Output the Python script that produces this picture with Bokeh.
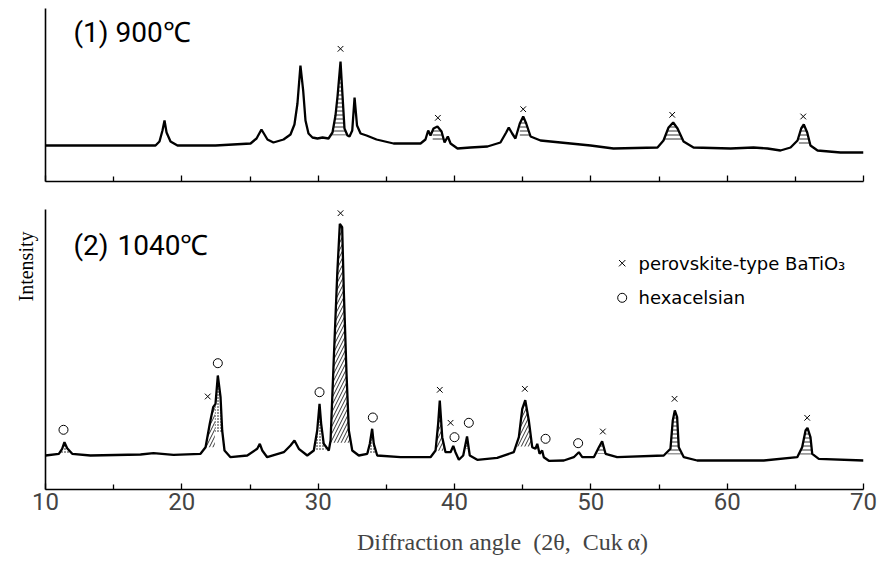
import numpy as np
from bokeh.plotting import figure
from bokeh.layouts import column
from bokeh.models import Range1d, FixedTicker, Title
from bokeh.core.properties import value
from bokeh.embed import file_html
from bokeh.resources import INLINE

# ---------------- data (2theta in degrees, intensity in arbitrary units) ----------------
top_x = [10.0, 14.03, 18.07, 18.36, 18.58, 18.73, 18.88, 19.17, 19.68, 22.47, 25.04, 25.48,
         25.84, 26.06, 26.28, 26.72, 27.46, 27.97, 28.26, 28.48, 28.70, 28.90, 29.07, 29.29,
         29.58, 29.95, 30.32, 30.76, 31.05, 31.27, 31.42, 31.64, 31.79, 31.93, 32.15, 32.30,
         32.50, 32.67, 32.85, 33.11, 33.55, 34.28, 35.53, 37.51, 37.87, 38.07, 38.24, 38.46,
         38.75, 39.05, 39.27, 39.51, 39.71, 40.22, 41.17, 42.42, 43.37, 43.79, 43.98, 44.23,
         44.47, 44.79, 45.04, 45.26, 45.58, 46.31, 47.78, 49.98, 51.66, 54.89, 55.33, 55.70,
         56.04, 56.36, 56.80, 57.53, 60.25, 61.93, 62.96, 63.91, 64.65, 65.16, 65.43, 65.62,
         65.87, 66.11, 66.63, 68.31, 70.0]
top_y = [36, 36, 36, 40, 51, 61, 49, 40, 36, 36, 38, 43,
         52, 47, 42, 39, 42, 47, 57, 78, 116, 91, 61, 48,
         44, 43, 44, 43, 49, 66, 85, 120, 85, 53, 46, 45,
         51, 84, 56, 48, 46, 42, 38, 38, 42, 51, 46, 53,
         55, 50, 39, 45, 38, 33, 34, 35, 39, 49, 54, 48,
         43, 58, 65, 58, 45, 41, 39, 36, 33, 34, 41, 54,
         59, 53, 40, 34, 33, 34, 33, 31, 34, 41, 53, 57,
         49, 36, 31, 29, 29]

bot_x = [10.0, 10.98, 11.22, 11.39, 11.59, 11.96, 13.30, 16.97, 17.92, 19.39, 21.37, 21.74,
         22.05, 22.30, 22.47, 22.64, 22.84, 22.96, 23.13, 23.57, 24.80, 25.53, 25.72, 25.90,
         26.26, 27.48, 27.97, 28.26, 28.58, 29.20, 29.68, 29.93, 30.10, 30.22, 30.41, 30.78,
         30.91, 31.15, 31.40, 31.59, 31.76, 31.88, 32.08, 32.25, 32.50, 32.98, 33.60, 33.79,
         33.96, 34.08, 34.33, 36.04, 38.24, 38.61, 38.80, 38.92, 39.10, 39.34, 39.71, 39.91,
         40.07, 40.32, 40.64, 40.92, 41.12, 41.67, 43.13, 44.35, 44.72, 44.97, 45.19, 45.45,
         45.70, 45.94, 46.07, 46.24, 46.43, 46.55, 46.92, 48.02, 48.75, 49.12, 49.37, 50.22,
         50.59, 50.83, 51.08, 51.93, 55.35, 55.84, 56.01, 56.16, 56.33, 56.45, 56.82, 57.80,
         62.69, 65.14, 65.50, 65.75, 65.89, 66.11, 66.24, 66.72, 70.0]
bot_y = [34, 35.7, 40.7, 47.3, 41.3, 35.7, 34, 35, 36.3, 34.7, 35.7, 42.3,
         65.7, 82.3, 85.7, 114, 92.3, 59, 39, 32.3, 34, 40.7, 45.7, 39,
         32.3, 37.3, 44, 49, 40.7, 34, 39, 59, 85.7, 65.7, 45.7, 39,
         49, 132.3, 215.7, 265.7, 262.3, 199, 115.7, 59, 39, 34, 35.7, 45.7,
         60.7, 45.7, 34, 32.3, 32.3, 39, 65.7, 89, 52.3, 37.3, 37.3, 43.5,
         37.3, 29.7, 34, 53, 34, 29.7, 31.7, 37.3, 52.3, 80.7, 89.3, 69,
         42.3, 40.7, 45.7, 35.7, 39, 32.3, 28.7, 29, 32.3, 37.3, 32.3, 32.3,
         42.3, 48.3, 35.7, 32.3, 34, 40.7, 69, 79, 72.3, 42.3, 32.3, 29,
         29, 32.3, 42.3, 59, 61.7, 52.3, 35.7, 30.7, 29]

# phase markers
top_perov_x = [31.64, 38.78, 45.04, 55.97, 65.58]
top_perov_y = [132.7, 63.7, 72.3, 66.7, 65.0]
bot_perov_x = [21.90, 31.64, 38.92, 39.71, 45.16, 50.88, 56.14, 65.87]
bot_perov_y = [93.0, 276.3, 99.7, 66.7, 100.7, 58.0, 90.7, 71.7]
bot_hexa_x = [11.32, 22.64, 30.10, 34.01, 40.00, 41.05, 46.68, 49.07]
bot_hexa_y = [59.7, 126.3, 97.3, 72.0, 52.3, 66.7, 50.7, 46.3]

# shaded peak areas: (start, end, pattern)
top_shade = [(30.9, 32.1, "-"), (38.4, 39.3, "-"), (44.79, 45.57, "-"),
             (55.35, 56.82, "-"), (65.26, 66.11, "-")]
bot_shade = [(10.95, 11.83, "."), (21.74, 22.42, "/"), (22.42, 22.98, "."),
             (29.66, 30.54, "."), (30.88, 32.37, "/"), (33.62, 34.28, "."),
             (38.6, 39.2, "/"), (40.75, 41.05, "."), (44.55, 46.0, "/"),
             (50.49, 51.15, "-"), (55.62, 56.72, "-"), (65.3, 66.33, "-")]

x_ticks = [10, 20, 30, 40, 50, 60, 70]
x_minor = [15, 25, 35, 45, 55, 65]

LABEL_FONT = "Roboto"


def shade(p, xs, ys, a, b, pattern):
    xs = np.asarray(xs, float)
    ys = np.asarray(ys, float)
    ya = np.interp(a, xs, ys)
    yb = np.interp(b, xs, ys)
    m = (xs > a) & (xs < b)
    sx = np.concatenate([[a], xs[m], [b]])
    sy = np.concatenate([[ya], ys[m], [yb]])
    base = np.full_like(sx, min(ya, yb))
    sc = {"/": 7, "-": 4, ".": 3}[pattern]
    p.varea(x=sx, y1=base, y2=sy, fill_color=None, hatch_pattern=pattern,
            hatch_scale=sc, hatch_weight=0.8, hatch_color="black")


def base_fig(height, y_end, b_top, b_bottom):
    p = figure(width=878, height=height, x_range=Range1d(10, 70), y_range=Range1d(0, y_end),
               output_backend="svg", toolbar_location=None,
               min_border_left=45, min_border_right=15,
               min_border_top=b_top, min_border_bottom=b_bottom)
    p.outline_line_color = None
    p.xgrid.visible = False
    p.ygrid.visible = False
    p.background_fill_color = "white"
    p.border_fill_color = "white"
    ax = p.xaxis[0]
    ax.ticker = FixedTicker(ticks=x_ticks, minor_ticks=x_minor)
    ax.major_tick_in = 6
    ax.major_tick_out = 0
    ax.minor_tick_in = 5
    ax.minor_tick_out = 0
    ax.axis_line_width = 1.6
    ax.major_tick_line_width = 1.3
    ax.minor_tick_line_width = 1.3
    ay = p.yaxis[0]
    ay.ticker = FixedTicker(ticks=[])
    ay.major_tick_in = 0
    ay.major_tick_out = 0
    ay.minor_tick_in = 0
    ay.minor_tick_out = 0
    ay.axis_line_width = 1.6
    ay.major_label_text_font_size = "1px"
    ay.major_label_standoff = 0
    return p


# ---------------- top panel ----------------
pt = base_fig(195, 173, 8, 14)
pt.xaxis[0].major_label_overrides = {t: "" for t in x_ticks}
pt.xaxis[0].major_label_standoff = 0
for a, b, pat in top_shade:
    shade(pt, top_x, top_y, a, b, pat)
pt.line(top_x, top_y, line_width=2.3, color="black")
pt.scatter(top_perov_x, top_perov_y, marker="x", size=8, line_width=1, color="black")
pt.text(x=[12.05], y=[149], text=["(1)"], text_font=value(LABEL_FONT), text_font_size="28px",
        text_baseline="middle", text_align="left", text_color="black")
pt.text(x=[15.13], y=[149], text=["900℃"], text_font=value(LABEL_FONT), text_font_size="28px",
        text_baseline="middle", text_align="left", text_color="black")

# ---------------- bottom panel ----------------
pb = base_fig(368, 280, 14, 74)
axb = pb.xaxis[0]
axb.major_label_text_font = LABEL_FONT
axb.major_label_text_font_size = "24px"
axb.major_label_standoff = 3
axb.axis_label = "\u2003\u2003\u2003\u2003Diffraction angle\u2002(2θ,\u2002Cuk\u2009α)"
axb.axis_label_text_font = "Liberation Serif"
axb.axis_label_text_font_size = "24px"
axb.axis_label_text_font_style = "normal"
axb.axis_label_standoff = 16
for a, b, pat in bot_shade:
    shade(pb, bot_x, bot_y, a, b, pat)
pb.line(bot_x, bot_y, line_width=2.3, color="black")
pb.scatter(bot_perov_x, bot_perov_y, marker="x", size=8, line_width=1, color="black")
pb.scatter(bot_hexa_x, bot_hexa_y, marker="circle", size=9, line_width=1,
           line_color="black", fill_color=None)
pb.text(x=[12.05], y=[244], text=["(2)"], text_font=value(LABEL_FONT), text_font_size="28px",
        text_baseline="middle", text_align="left", text_color="black")
pb.text(x=[15.28], y=[244], text=["1040℃"], text_font=value(LABEL_FONT), text_font_size="28px",
        text_baseline="middle", text_align="left", text_color="black")

# legend
pb.scatter([52.30], [226.3], marker="x", size=9, line_width=1, color="black")
pb.scatter([52.30], [191.7], marker="circle", size=9, line_width=1, line_color="black", fill_color=None)
pb.text(x=[53.5, 53.5], y=[226.3, 191.7], text=["perovskite-type BaTiO₃", "hexacelsian"],
        text_font=value("DejaVu Sans"), text_font_size="18px", text_baseline="middle",
        text_align="left", text_color="black")

pb.add_layout(Title(text="Intensity", align="right", offset=22, text_font="Liberation Serif",
                    text_font_size="20px", text_font_style="normal", text_color="black",
                    standoff=18), "left")

layout = column(pt, pb, spacing=0)
open("out.html", "w").write(file_html(layout, INLINE))
